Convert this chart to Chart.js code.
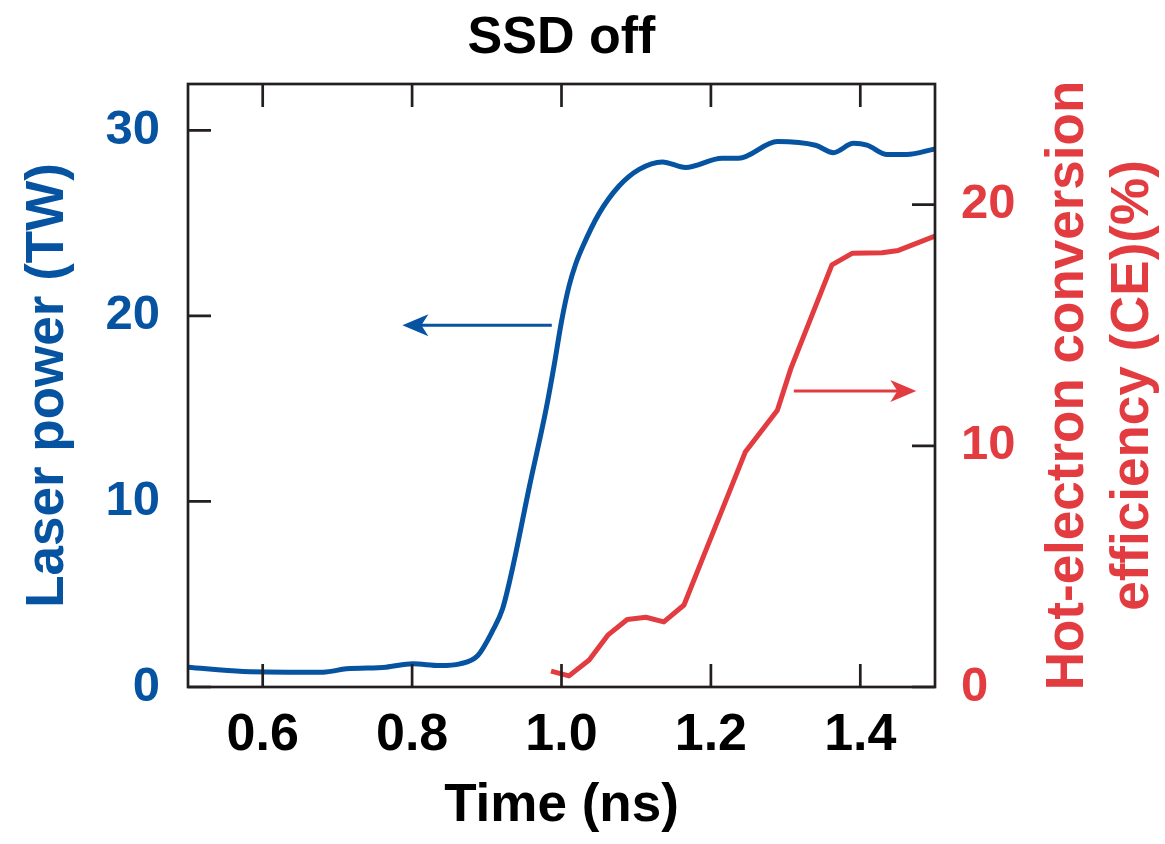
<!DOCTYPE html>
<html>
<head>
<meta charset="utf-8">
<title>SSD off</title>
<style>
  html, body { margin: 0; padding: 0; background: #fff; }
</style>
</head>
<body>
<canvas id="myChart" width="1165" height="844"></canvas>
<script src="https://cdn.jsdelivr.net/npm/chart.js@4/dist/chart.umd.min.js"></script>
<script>
// Laser power curve (left axis, TW)
const powerTime = [0.500, 0.574, 0.681, 0.712, 0.765, 0.801, 0.837, 0.864, 0.888, 0.908, 0.921, 0.935, 0.957, 0.979, 0.990, 1.000, 1.010, 1.019, 1.028, 1.050, 1.077, 1.104, 1.135, 1.166, 1.215, 1.237, 1.289, 1.340, 1.364, 1.391, 1.409, 1.436, 1.462, 1.500];
const powerTW   = [1.07, 0.84, 0.80, 0.98, 1.07, 1.25, 1.16, 1.25, 1.70, 3.05, 4.20, 6.50, 10.8, 14.9, 17.3, 19.7, 21.6, 22.8, 23.7, 25.5, 27.0, 27.9, 28.3, 28.0, 28.5, 28.5, 29.4, 29.2, 28.8, 29.3, 29.2, 28.7, 28.7, 29.0];

// Hot-electron conversion efficiency (right axis, %)
const ceTime    = [0.986, 1.010, 1.037, 1.062, 1.088, 1.113, 1.137, 1.164, 1.188, 1.213, 1.246, 1.289, 1.307, 1.362, 1.389, 1.429, 1.451, 1.500];
const cePercent = [0.66, 0.46, 1.12, 2.15, 2.80, 2.89, 2.70, 3.40, 5.26, 7.19, 9.74, 11.47, 13.2, 17.5, 17.98, 18.0, 18.1, 18.7];

// tick labels
const timeTicks  = [0.6, 0.8, 1.0, 1.2, 1.4];
const powerTicks = [0, 10, 20, 30];
const ceTicks    = [0, 10, 20];

const blue = '#0553a1';
const red = '#e23c41';
const ink = '#231f20';
const FONT = "'Liberation Sans', Arial, Helvetica, sans-serif";

const toPoints = (xs, ys) => xs.map((x, i) => ({ x: x, y: ys[i] }));
const fixTicks = list => scale => { scale.ticks = list.map(v => ({ value: v })); };

function drawArrow(ctx, x1, y1, x2, y2, color) {
  const dir = Math.sign(x2 - x1);
  ctx.save();
  ctx.strokeStyle = color;
  ctx.fillStyle = color;
  ctx.lineWidth = 3;
  ctx.beginPath();
  ctx.moveTo(x1, y1);
  ctx.lineTo(x2 - dir * 15, y2);
  ctx.stroke();
  ctx.beginPath();
  ctx.moveTo(x2, y2);
  ctx.lineTo(x2 - dir * 26, y2 - 11);
  ctx.lineTo(x2 - dir * 19, y2);
  ctx.lineTo(x2 - dir * 26, y2 + 11);
  ctx.closePath();
  ctx.fill();
  ctx.restore();
}

// frame, inward ticks, arrows, chart title and right axis title
const framePlugin = {
  id: 'frame',
  afterDatasetsDraw(chart) {
    const { ctx, chartArea: a, scales } = chart;
    const len = 23;
    ctx.save();
    ctx.strokeStyle = ink;
    ctx.lineWidth = 2.7;
    ctx.strokeRect(a.left, a.top, a.right - a.left, a.bottom - a.top);
    ctx.beginPath();
    timeTicks.forEach(v => {
      const px = scales.x.getPixelForValue(v);
      ctx.moveTo(px, a.bottom); ctx.lineTo(px, a.bottom - len);
      ctx.moveTo(px, a.top); ctx.lineTo(px, a.top + len);
    });
    powerTicks.forEach(v => {
      const py = scales.y.getPixelForValue(v);
      ctx.moveTo(a.left, py); ctx.lineTo(a.left + len, py);
    });
    ceTicks.forEach(v => {
      const py = scales.y2.getPixelForValue(v);
      ctx.moveTo(a.right, py); ctx.lineTo(a.right - len, py);
    });
    ctx.stroke();
    ctx.restore();

    // arrows pointing to each curve's axis
    const by = scales.y.getPixelForValue(19.5);
    drawArrow(ctx, scales.x.getPixelForValue(0.987), by, scales.x.getPixelForValue(0.787), by, blue);
    const ry = scales.y2.getPixelForValue(12.27);
    drawArrow(ctx, scales.x.getPixelForValue(1.311), ry, scales.x.getPixelForValue(1.475), ry, red);

    ctx.save();
    ctx.fillStyle = '#000';
    ctx.font = 'bold 52px ' + FONT;
    ctx.textAlign = 'center';
    ctx.textBaseline = 'alphabetic';
    ctx.fillText('SSD off', (a.left + a.right) / 2, 53);

    // right title reads bottom to top
    ctx.fillStyle = red;
    ctx.font = 'bold 53px ' + FONT;
    const cy = (a.top + a.bottom) / 2;
    [['Hot-electron conversion', 148], ['efficiency (CE)(%)', 213]].forEach(([txt, dx]) => {
      ctx.save();
      ctx.translate(a.right + dx, cy);
      ctx.rotate(-Math.PI / 2);
      ctx.fillText(txt, 0, 0);
      ctx.restore();
    });
    ctx.restore();
  }
};

const data = {
  datasets: [
    {
      label: 'Laser power',
      data: toPoints(powerTime, powerTW),
      yAxisID: 'y',
      borderColor: blue,
      borderWidth: 5,
      pointRadius: 0,
      fill: false,
      cubicInterpolationMode: 'monotone',
      borderJoinStyle: 'round'
    },
    {
      label: 'Hot-electron CE',
      data: toPoints(ceTime, cePercent),
      yAxisID: 'y2',
      borderColor: red,
      borderWidth: 5,
      pointRadius: 0,
      fill: false,
      tension: 0,
      borderJoinStyle: 'round'
    }
  ]
};

const config = {
  type: 'line',
  data: data,
  options: {
    responsive: false,
    animation: false,
    devicePixelRatio: 1,
    layout: { padding: { top: 84, left: 0, right: 0, bottom: 0 } },
    plugins: {
      legend: { display: false },
      tooltip: { enabled: false },
      title: { display: false }
    },
    scales: {
      x: {
        type: 'linear',
        min: 0.5,
        max: 1.5,
        afterBuildTicks: fixTicks(timeTicks),
        afterFit: s => { s.height = 157; },
        grid: { display: false },
        border: { display: false },
        ticks: {
          color: '#000',
          padding: 15,
          maxRotation: 0,
          autoSkip: false,
          font: { family: FONT, size: 52, weight: 'bold', lineHeight: 1 },
          callback: v => v.toFixed(1)
        },
        title: {
          display: true,
          text: 'Time (ns)',
          color: '#000',
          font: { family: FONT, size: 53, weight: 'bold', lineHeight: 1 },
          padding: { top: 0, bottom: 11 }
        }
      },
      y: {
        position: 'left',
        min: 0,
        max: 32.5,
        afterBuildTicks: fixTicks(powerTicks),
        afterFit: s => { s.width = 188; },
        grid: { display: false },
        border: { display: false },
        ticks: {
          color: blue,
          padding: 20,
          font: { family: FONT, size: 49, weight: 'bold', lineHeight: 1 }
        },
        title: {
          display: true,
          text: 'Laser power (TW)',
          color: blue,
          font: { family: FONT, size: 53, weight: 'bold', lineHeight: 1 },
          padding: { top: 22, bottom: 0 }
        }
      },
      y2: {
        position: 'right',
        min: 0,
        max: 25,
        afterBuildTicks: fixTicks(ceTicks),
        afterFit: s => { s.width = 230; },
        grid: { display: false },
        border: { display: false },
        ticks: {
          color: red,
          padding: 18,
          font: { family: FONT, size: 49, weight: 'bold', lineHeight: 1 }
        }
      }
    }
  },
  plugins: [framePlugin]
};

const ctx = document.getElementById('myChart').getContext('2d');
const myChart = new Chart(ctx, config);
</script>
</body>
</html>
